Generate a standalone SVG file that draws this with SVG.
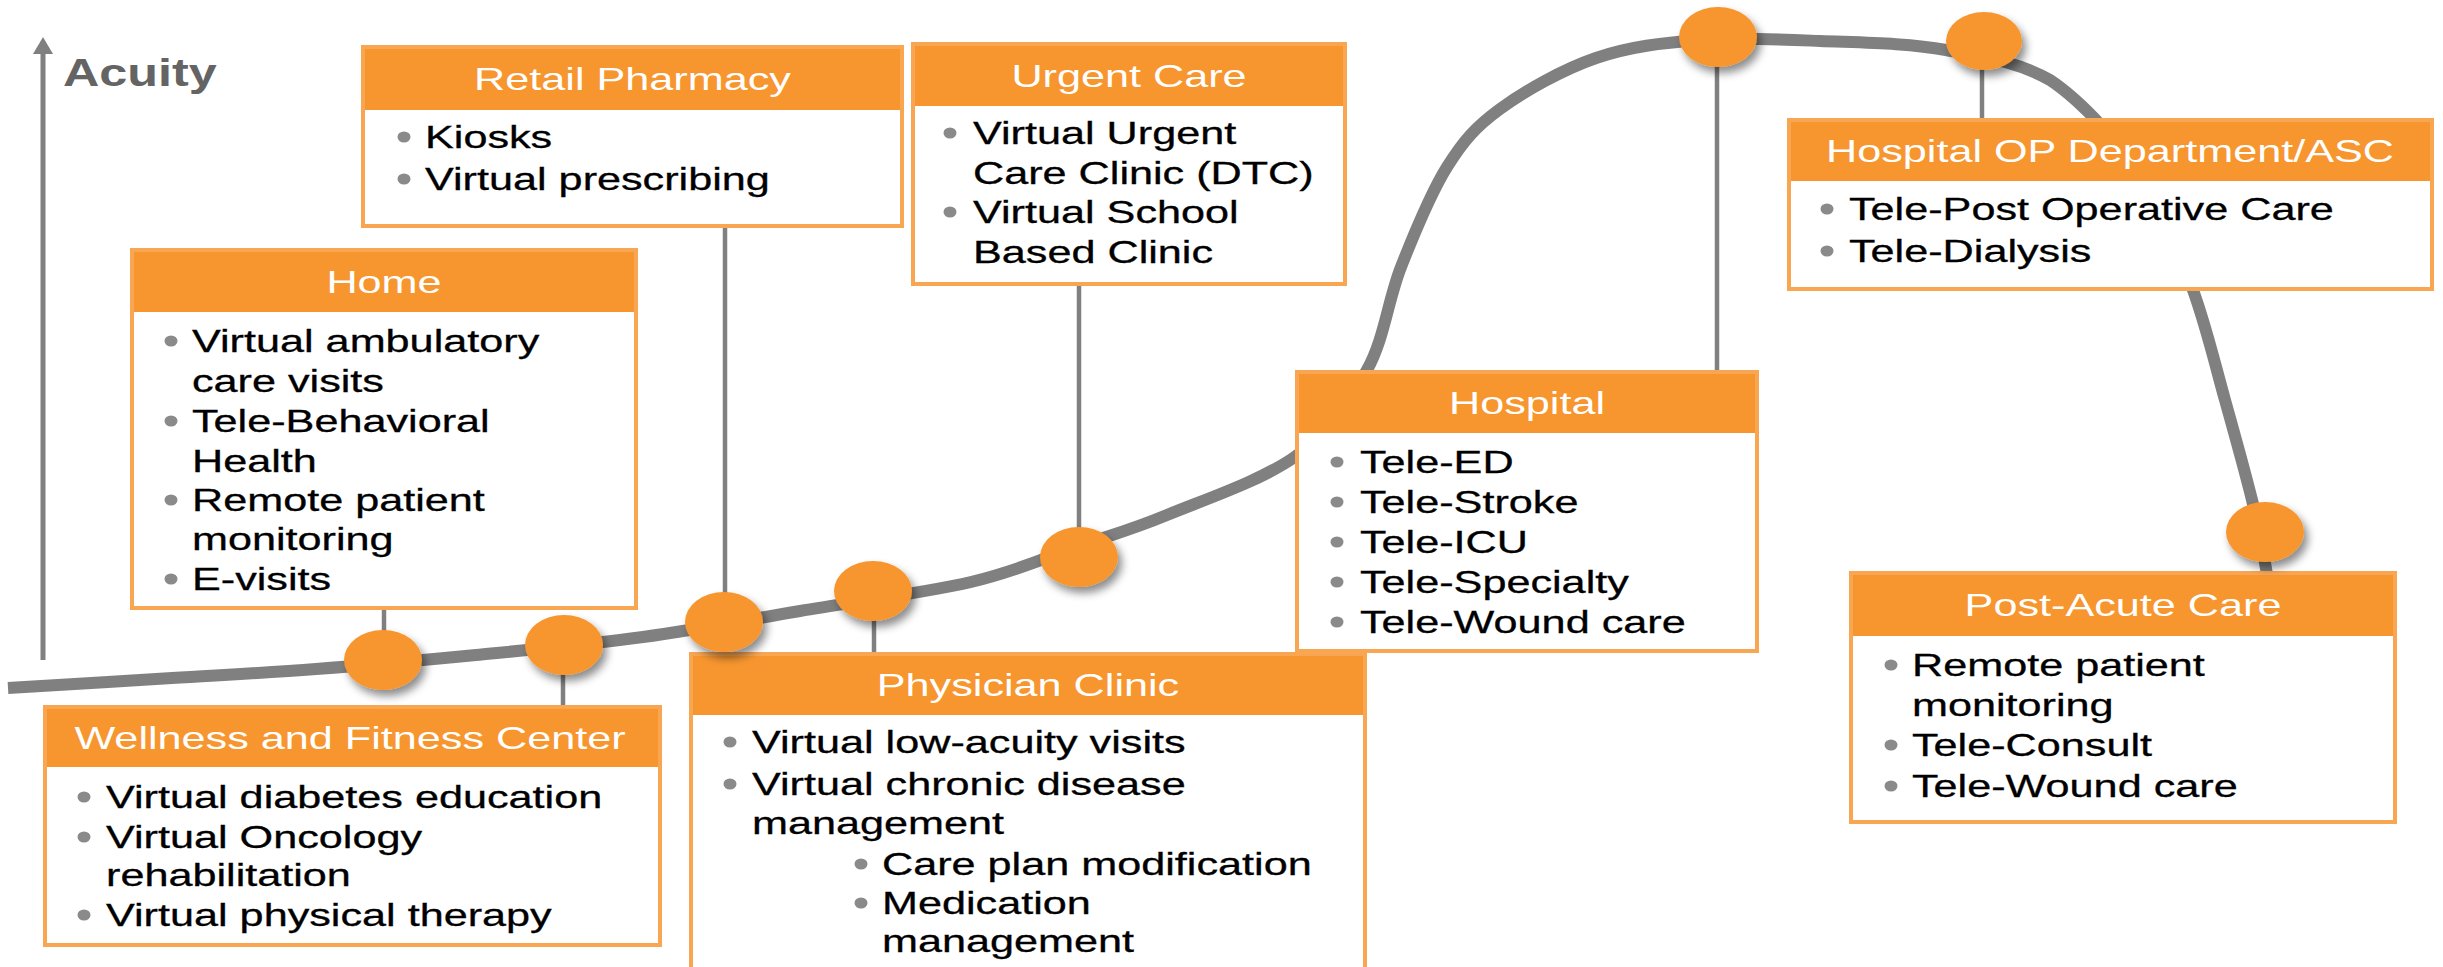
<svg xmlns="http://www.w3.org/2000/svg" width="2443" height="967" viewBox="0 0 2443 967">
<style>
.h{font-family:"Liberation Sans",Arial,sans-serif;font-size:32px;fill:#fff;text-anchor:middle}
.t{font-family:"Liberation Sans",Arial,sans-serif;font-size:32px;fill:#000;stroke:#000;stroke-width:0.3}
.ax{font-family:"Liberation Sans",Arial,sans-serif;font-size:39px;font-weight:bold;fill:#646464}
.body{fill:#fff}
.hdr{fill:#F7962F}
.brd{fill:none;stroke:#F9A653;stroke-width:4}
.bul{fill:#8a8a8a}
.con{stroke:#808080;stroke-width:4.5;fill:none}
.curve{stroke:#808080;stroke-width:12;fill:none;stroke-linecap:butt}
.dot{fill:#F7962F}
</style>
<defs>
<filter id="sh" x="-50%" y="-50%" width="200%" height="200%">
<feDropShadow dx="4" dy="6" stdDeviation="4" flood-color="#000" flood-opacity="0.45"/>
</filter>
</defs>

<g id="axis">
<line x1="43" y1="660" x2="43" y2="50" stroke="#808080" stroke-width="5"/>
<polygon points="43,37 33,54 53,54" fill="#808080"/>
<text class="ax" transform="matrix(1.29 0 0 1 63 86)">Acuity</text>
</g>

<g id="connectors">
<path class="curve" d="M8,688 C36,686.3 119.3,681.2 172,678 C224.7,674.8 265.3,672.8 316,669 C366.7,665.2 421.5,660.3 476,655 C530.5,649.7 589,644.3 643,637 C697,629.7 745.3,620.2 800,611 C854.7,601.8 924.5,592.8 971,582 C1017.5,571.2 1046.3,557.2 1079,546 C1111.7,534.8 1130.8,530 1167,515 C1203.2,500 1262.7,480.2 1296,456 C1329.3,431.8 1349.5,401.5 1367,370 C1384.5,338.5 1387.7,300.8 1401,267 C1414.3,233.2 1430.5,193.3 1447,167 C1463.5,140.7 1475.2,127.2 1500,109 C1524.8,90.8 1562.7,69.5 1596,58 C1629.3,46.5 1662.7,42.8 1700,40 C1737.3,37.2 1779,39.3 1820,41 C1861,42.7 1907.7,43 1946,50 C1984.3,57 2016.8,61.3 2050,80 C2083.2,102 2121.2,145.5 2145,180 C2168.8,214.5 2179.7,253.3 2193,290 C2206.3,326.7 2215.2,365 2225,400 C2234.8,435 2244.8,470.8 2252,500 C2259.2,529.2 2265.3,562.5 2268,580"/>
<line class="con" x1="384" y1="608" x2="384" y2="660"/>
<line class="con" x1="563" y1="645" x2="563" y2="707"/>
<line class="con" x1="725" y1="226" x2="725" y2="622"/>
<line class="con" x1="874" y1="591" x2="874" y2="654"/>
<line class="con" x1="1079" y1="284" x2="1079" y2="557"/>
<line class="con" x1="1717" y1="37" x2="1717" y2="372"/>
<line class="con" x1="1982" y1="40" x2="1982" y2="120"/>
</g>

<g id="retail">
<rect class="body" x="363" y="47" width="539" height="179"/>
<rect class="hdr" x="363" y="47" width="539" height="63"/>
<rect class="brd" x="363" y="47" width="539" height="179"/>
<text class="h" transform="matrix(1.35 0 0 1 632.5 90)">Retail Pharmacy</text>
<ellipse class="bul" cx="404" cy="137" rx="6.5" ry="5.5"/>
<text class="t" transform="matrix(1.35 0 0 1 425 148)">Kiosks</text>
<ellipse class="bul" cx="404" cy="179" rx="6.5" ry="5.5"/>
<text class="t" transform="matrix(1.35 0 0 1 425 190)">Virtual prescribing</text>
</g>

<g id="home">
<rect class="body" x="132" y="250" width="504" height="358"/>
<rect class="hdr" x="132" y="250" width="504" height="62"/>
<rect class="brd" x="132" y="250" width="504" height="358"/>
<text class="h" transform="matrix(1.35 0 0 1 384 292.5)">Home</text>
<ellipse class="bul" cx="171" cy="341" rx="6.5" ry="5.5"/>
<text class="t" transform="matrix(1.35 0 0 1 192 352)">Virtual ambulatory</text>
<text class="t" transform="matrix(1.35 0 0 1 192 392)">care visits</text>
<ellipse class="bul" cx="171" cy="421" rx="6.5" ry="5.5"/>
<text class="t" transform="matrix(1.35 0 0 1 192 432)">Tele-Behavioral</text>
<text class="t" transform="matrix(1.35 0 0 1 192 472)">Health</text>
<ellipse class="bul" cx="171" cy="500" rx="6.5" ry="5.5"/>
<text class="t" transform="matrix(1.35 0 0 1 192 511)">Remote patient</text>
<text class="t" transform="matrix(1.35 0 0 1 192 550)">monitoring</text>
<ellipse class="bul" cx="171" cy="579" rx="6.5" ry="5.5"/>
<text class="t" transform="matrix(1.35 0 0 1 192 590)">E-visits</text>
</g>

<g id="urgent">
<rect class="body" x="913" y="44" width="432" height="240"/>
<rect class="hdr" x="913" y="44" width="432" height="62"/>
<rect class="brd" x="913" y="44" width="432" height="240"/>
<text class="h" transform="matrix(1.35 0 0 1 1129 86.5)">Urgent Care</text>
<ellipse class="bul" cx="950" cy="133" rx="6.5" ry="5.5"/>
<text class="t" transform="matrix(1.35 0 0 1 973 144)">Virtual Urgent</text>
<text class="t" transform="matrix(1.35 0 0 1 973 184)">Care Clinic (DTC)</text>
<ellipse class="bul" cx="950" cy="212" rx="6.5" ry="5.5"/>
<text class="t" transform="matrix(1.35 0 0 1 973 223)">Virtual School</text>
<text class="t" transform="matrix(1.35 0 0 1 973 263)">Based Clinic</text>
</g>

<g id="hospital">
<rect class="body" x="1297" y="372" width="460" height="279"/>
<rect class="hdr" x="1297" y="372" width="460" height="61"/>
<rect class="brd" x="1297" y="372" width="460" height="279"/>
<text class="h" transform="matrix(1.35 0 0 1 1527 414)">Hospital</text>
<ellipse class="bul" cx="1337" cy="462" rx="6.5" ry="5.5"/>
<text class="t" transform="matrix(1.35 0 0 1 1360 473)">Tele-ED</text>
<ellipse class="bul" cx="1337" cy="502" rx="6.5" ry="5.5"/>
<text class="t" transform="matrix(1.35 0 0 1 1360 513)">Tele-Stroke</text>
<ellipse class="bul" cx="1337" cy="542" rx="6.5" ry="5.5"/>
<text class="t" transform="matrix(1.35 0 0 1 1360 553)">Tele-ICU</text>
<ellipse class="bul" cx="1337" cy="582" rx="6.5" ry="5.5"/>
<text class="t" transform="matrix(1.35 0 0 1 1360 593)">Tele-Specialty</text>
<ellipse class="bul" cx="1337" cy="622" rx="6.5" ry="5.5"/>
<text class="t" transform="matrix(1.35 0 0 1 1360 633)">Tele-Wound care</text>
</g>

<g id="hospital-op">
<rect class="body" x="1789" y="120" width="643" height="169"/>
<rect class="hdr" x="1789" y="120" width="643" height="61"/>
<rect class="brd" x="1789" y="120" width="643" height="169"/>
<text class="h" transform="matrix(1.35 0 0 1 2110 162)">Hospital OP Department/ASC</text>
<ellipse class="bul" cx="1827" cy="209" rx="6.5" ry="5.5"/>
<text class="t" transform="matrix(1.35 0 0 1 1849 220)">Tele-Post Operative Care</text>
<ellipse class="bul" cx="1827" cy="251" rx="6.5" ry="5.5"/>
<text class="t" transform="matrix(1.35 0 0 1 1849 262)">Tele-Dialysis</text>
</g>

<g id="post-acute">
<rect class="body" x="1851" y="573" width="544" height="249"/>
<rect class="hdr" x="1851" y="573" width="544" height="63"/>
<rect class="brd" x="1851" y="573" width="544" height="249"/>
<text class="h" transform="matrix(1.35 0 0 1 2123 616)">Post-Acute Care</text>
<ellipse class="bul" cx="1891" cy="665" rx="6.5" ry="5.5"/>
<text class="t" transform="matrix(1.35 0 0 1 1912 676)">Remote patient</text>
<text class="t" transform="matrix(1.35 0 0 1 1912 716)">monitoring</text>
<ellipse class="bul" cx="1891" cy="745" rx="6.5" ry="5.5"/>
<text class="t" transform="matrix(1.35 0 0 1 1912 756)">Tele-Consult</text>
<ellipse class="bul" cx="1891" cy="786" rx="6.5" ry="5.5"/>
<text class="t" transform="matrix(1.35 0 0 1 1912 797)">Tele-Wound care</text>
</g>

<g id="wellness">
<rect class="body" x="45" y="707" width="615" height="238"/>
<rect class="hdr" x="45" y="707" width="615" height="60"/>
<rect class="brd" x="45" y="707" width="615" height="238"/>
<text class="h" transform="matrix(1.35 0 0 1 350 748.5)">Wellness and Fitness Center</text>
<ellipse class="bul" cx="84" cy="797" rx="6.5" ry="5.5"/>
<text class="t" transform="matrix(1.35 0 0 1 106 808)">Virtual diabetes education</text>
<ellipse class="bul" cx="84" cy="837" rx="6.5" ry="5.5"/>
<text class="t" transform="matrix(1.35 0 0 1 106 848)">Virtual Oncology</text>
<text class="t" transform="matrix(1.35 0 0 1 106 886)">rehabilitation</text>
<ellipse class="bul" cx="84" cy="915" rx="6.5" ry="5.5"/>
<text class="t" transform="matrix(1.35 0 0 1 106 926)">Virtual physical therapy</text>
</g>

<g id="physician">
<rect class="body" x="691" y="654" width="674" height="330"/>
<rect class="hdr" x="691" y="654" width="674" height="61"/>
<rect class="brd" x="691" y="654" width="674" height="330"/>
<text class="h" transform="matrix(1.35 0 0 1 1028 696)">Physician Clinic</text>
<ellipse class="bul" cx="730" cy="742" rx="6.5" ry="5.5"/>
<text class="t" transform="matrix(1.35 0 0 1 752 753)">Virtual low-acuity visits</text>
<ellipse class="bul" cx="730" cy="784" rx="6.5" ry="5.5"/>
<text class="t" transform="matrix(1.35 0 0 1 752 795)">Virtual chronic disease</text>
<text class="t" transform="matrix(1.35 0 0 1 752 834)">management</text>
<ellipse class="bul" cx="861" cy="864" rx="6.5" ry="5.5"/>
<text class="t" transform="matrix(1.35 0 0 1 882 875)">Care plan modification</text>
<ellipse class="bul" cx="861" cy="903" rx="6.5" ry="5.5"/>
<text class="t" transform="matrix(1.35 0 0 1 882 914)">Medication</text>
<text class="t" transform="matrix(1.35 0 0 1 882 952)">management</text>
</g>

<g id="markers" filter="url(#sh)">
<ellipse class="dot" cx="383" cy="660" rx="39" ry="30"/>
<ellipse class="dot" cx="564" cy="645" rx="39" ry="30"/>
<ellipse class="dot" cx="724" cy="622" rx="39" ry="30"/>
<ellipse class="dot" cx="873" cy="591" rx="39" ry="30"/>
<ellipse class="dot" cx="1079" cy="557" rx="39" ry="30"/>
<ellipse class="dot" cx="1718" cy="37" rx="39" ry="30"/>
<ellipse class="dot" cx="1984" cy="41" rx="38" ry="29"/>
<ellipse class="dot" cx="2265" cy="532" rx="39" ry="30"/>
</g>
</svg>
